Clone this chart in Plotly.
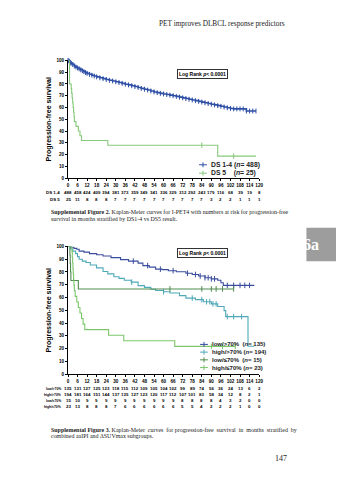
import plotly.graph_objects as go

W, H = 340, 480

# ---------------- data ----------------
months = list(range(0, 121, 6))
pct_ticks = list(range(0, 101, 10))

# Supplemental Figure 2: DS 1-4 vs DS 5
ds14_t = [0, 0.5, 1, 1.5, 2, 3, 4, 5, 6, 7, 8, 9, 10, 11, 12, 13.5, 15, 16.5, 18, 20, 22, 24,
          26, 28, 30, 32, 34, 36, 38, 40, 42, 44, 46, 48, 50, 52, 54, 56, 58, 60, 62, 64, 66,
          68, 70, 72, 74, 76, 78, 80, 82, 84, 86, 88, 90, 92, 94, 96, 98, 100, 102, 104, 106,
          108, 110, 112, 114, 116, 118]
ds14_s = [100, 99.6, 99, 98.2, 97.5, 96.5, 95.2, 94.3, 93.6, 92.8, 92, 91.2, 90.4, 89.7, 89,
          88.2, 87.4, 86.7, 86, 85.2, 84.5, 83.8, 83.1, 82.5, 81.8, 81.2, 80.5, 79.8, 79.2,
          78.5, 77.8, 77, 76.2, 75.5, 74.8, 74, 73.2, 72.6, 72, 71.5, 71, 70.5, 70,
          69.4, 68.8, 68.2, 67.6, 67, 66.4, 65.8, 65.2, 64.6, 64, 63.4, 62.8, 62.2, 61.6, 61,
          60.4, 59.8, 59.2, 58.8, 58.8, 58.8, 58.8, 57, 57, 57, 57]
ds5_t = [0, 1, 2, 2.3, 2.6, 2.9, 3.2, 3.5, 3.8, 4, 5, 6.5, 7.5, 8.5, 25, 94, 118]
ds5_s = [100, 80, 76, 72, 68, 64, 60, 56, 52, 48, 44, 40, 36, 32, 28, 18.7, 18.7]
ds5_cens = [84, 104]

ds14_risk = [488, 458, 424, 409, 394, 381, 373, 359, 349, 341, 336, 329, 312, 292, 243, 179, 116, 68, 39, 19, 8]
ds5_risk = [25, 11, 8, 8, 8, 7, 7, 7, 7, 7, 7, 7, 7, 7, 7, 3, 2, 2, 1, 1, 1]

# Supplemental Figure 3: aaIPI / dSUVmax subgroups
lowhi_t = [0, 2, 3.7, 5.5, 7, 10, 13.5, 18, 22, 27, 33, 38, 44, 47, 51, 55, 59, 63, 68, 74, 78,
           82, 86, 90, 94, 96, 97.5, 117]
lowhi_s = [100, 99.3, 98.5, 97.8, 96.3, 95.5, 94.4, 93.5, 92.5, 91.2, 89.7, 88.5, 86.9, 85,
           83.8, 82.2, 81.8, 81, 80.2, 79, 78, 76.8, 75.5, 74.6, 73.5, 71.5, 69.5, 69.5]
lowhi_cens = [41, 50, 58, 66, 75, 80, 83, 86, 88, 90, 92, 100, 104, 108, 111, 114]

highhi_t = [0, 1.5, 3, 4.8, 6, 7, 9, 11.3, 14, 17.9, 22, 25, 28.8, 32, 35.3, 39.7, 44, 48, 52,
            55, 60, 64, 70, 74, 80, 85, 90, 94, 98, 99, 113, 117]
highhi_s = [100, 98, 96.3, 94.4, 92, 90, 88.5, 87.4, 85.5, 83.2, 80.4, 78.5, 76.3, 75, 73.5,
            72, 69.3, 67.9, 66.5, 65.5, 64.5, 63.5, 61.5, 59.5, 58.3, 56.7, 55, 53, 49.7, 45,
            21.8, 21.8]
highhi_cens = [40, 60, 78, 84, 87, 89, 91, 93, 100, 104, 109]

lowlo_t = [0, 1.2, 1.4, 1.6, 1.8, 6.5, 104]
lowlo_s = [100, 93.3, 86.7, 80, 73.3, 66.7, 66.7]
lowlo_cens = [64, 84, 90, 93, 97, 104]

highlo_t = [0, 2.5, 2.7, 2.9, 3.1, 3.3, 3.5, 3.7, 4.0, 4.5, 5.5, 6.5, 7.5, 8.5, 9.5, 10.5,
            25.5, 35, 67, 105]
highlo_s = [100, 95.7, 91.3, 87.0, 82.6, 78.3, 73.9, 69.6, 65.2, 60.9, 56.5, 52.2, 47.8,
            43.5, 39.1, 34.8, 30.4, 26.1, 21.7, 21.7]
highlo_cens = [90, 97, 105]

lowhi_risk = [135, 131, 127, 125, 123, 118, 115, 112, 109, 105, 104, 102, 99, 89, 74, 56, 36, 24, 13, 6, 2]
highhi_risk = [194, 181, 164, 151, 144, 137, 135, 127, 123, 120, 117, 112, 107, 101, 83, 58, 34, 12, 8, 2, 1]
lowlo_risk = [15, 10, 9, 9, 9, 9, 9, 9, 9, 9, 9, 9, 8, 8, 8, 8, 4, 3, 2, 0, 0]
highlo_risk = [23, 13, 8, 8, 8, 7, 6, 6, 6, 6, 6, 6, 5, 5, 4, 2, 2, 2, 1, 0, 0]

# ---------------- styling ----------------
C_BLUE1 = "#2f4fa6"
C_GREEN1 = "#86c97a"
C_LOWHI = "#3a4c9e"
C_HIGHHI = "#4fa9b9"
C_LOWLO = "#4f8a4f"
C_HIGHLO = "#7dc66b"

SANS = "Liberation Sans"
SERIF = "Liberation Serif"


def px(x):
    return x / W


def py(y):
    return 1 - y / H


def step_at(ts, ss, t):
    v = ss[0]
    for ti, si in zip(ts, ss):
        if ti <= t:
            v = si
    return v


fig = go.Figure()


def add_curve(ts, ss, color, xa, ya, cens=None, mark_vertices=False, width=1.1):
    fig.add_trace(go.Scatter(x=ts, y=ss, mode="lines+markers" if mark_vertices else "lines",
                             line=dict(color=color, width=width, shape="hv"),
                             marker=dict(symbol="line-ns", size=3.5,
                                         line=dict(color=color, width=1)),
                             xaxis=xa, yaxis=ya, showlegend=False, cliponaxis=False,
                             hoverinfo="skip"))
    if cens:
        fig.add_trace(go.Scatter(x=cens, y=[step_at(ts, ss, c) for c in cens], mode="markers",
                                 marker=dict(symbol="line-ns", size=4,
                                             line=dict(color=color, width=1)),
                                 xaxis=xa, yaxis=ya, showlegend=False, cliponaxis=False,
                                 hoverinfo="skip"))


add_curve(ds14_t, ds14_s, C_BLUE1, "x", "y", mark_vertices=True, width=1.6)
add_curve(ds5_t, ds5_s, C_GREEN1, "x", "y", cens=ds5_cens)

add_curve(lowhi_t, lowhi_s, C_LOWHI, "x2", "y2", cens=lowhi_cens)
add_curve(highhi_t, highhi_s, C_HIGHHI, "x2", "y2", cens=highhi_cens)
add_curve(lowlo_t, lowlo_s, C_LOWLO, "x2", "y2", cens=lowlo_cens)
add_curve(highlo_t, highlo_s, C_HIGHLO, "x2", "y2", cens=highlo_cens)

# ---------------- axes ----------------
tick_font = dict(family=SANS, size=4.6, color="black", weight="bold")
ax_common = dict(showline=True, linecolor="black", linewidth=1, ticks="outside", ticklen=2,
                 tickwidth=0.8, tickcolor="black", showgrid=False, zeroline=False,
                 tickfont=tick_font, tickangle=0)
title_font = dict(family=SANS, size=7, color="black", weight="bold")

P1 = dict(x0=68, x1=262, top=59, bottom=178)
P2 = dict(x0=68, x1=262, top=247, bottom=376)

layout = dict(
    width=W, height=H, margin=dict(l=0, r=0, t=0, b=0),
    paper_bgcolor="white", plot_bgcolor="rgba(0,0,0,0)", showlegend=False,
    xaxis=dict(domain=[px(P1["x0"]), px(P1["x1"])], range=[0, 120], tickvals=months,
               anchor="y", **ax_common),
    yaxis=dict(domain=[py(P1["bottom"]), py(P1["top"])], range=[0, 100], tickvals=pct_ticks,
               anchor="x", title=dict(text="Progression-free survival", font=title_font,
                                      standoff=3), **ax_common),
    xaxis2=dict(domain=[px(P2["x0"]), px(P2["x1"])], range=[0, 120], tickvals=months,
                anchor="y2", **ax_common),
    yaxis2=dict(domain=[py(P2["bottom"]), py(P2["top"])], range=[0, 100], tickvals=pct_ticks,
                anchor="x2", title=dict(text="Progression-free survival", font=title_font,
                                        standoff=3), **ax_common),
)
fig.update_layout(**layout)

ann = []
shapes = []
risk_font = dict(family=SANS, size=4.4, color="black", weight="bold")
lab_font = dict(family=SANS, size=3.4, color="black", weight="bold")


def risk_rows(rows, xref, y_start, dy, label_right, lab_f):
    for i, (label, vals) in enumerate(rows):
        yy = py(y_start + i * dy)
        ann.append(dict(text=label, x=px(label_right), y=yy, xref="paper", yref="paper",
                        xanchor="right", yanchor="middle", showarrow=False, font=lab_f))
        for m, v in zip(months, vals):
            ann.append(dict(text=str(v), x=m, y=yy, xref=xref, yref="paper", xanchor="center",
                            yanchor="middle", showarrow=False, font=risk_font))


risk_rows([("DS 1-4", ds14_risk), ("DS 5", ds5_risk)], "x", 193, 6.5, 62, risk_font)
risk_rows([("low/>70%", lowhi_risk), ("high/>70%", highhi_risk),
           ("low/\u226470%", lowlo_risk), ("high/\u226470%", highlo_risk)],
          "x2", 391, 6, 62.5, lab_font)

# log rank boxes
for yy in (68, 254):
    ann.append(dict(text="Log Rank <i>p</i>< 0.0001", x=px(230), y=py(yy), xref="paper",
                    yref="paper", showarrow=False, font=dict(family=SANS, size=5, color="black",
                                                               weight="bold"),
                    bordercolor="#333333", borderwidth=1, borderpad=1, bgcolor="white"))

# legends (drawn as layout decoration)


def legend(entries, x_sym, x_text, y_start, dy, font):
    for i, (color, text) in enumerate(entries):
        yy = y_start + i * dy
        shapes.append(dict(type="line", xref="paper", yref="paper", x0=px(x_sym - 4),
                           x1=px(x_sym + 4), y0=py(yy), y1=py(yy),
                           line=dict(color=color, width=1)))
        shapes.append(dict(type="line", xref="paper", yref="paper", x0=px(x_sym),
                           x1=px(x_sym), y0=py(yy - 2.5), y1=py(yy + 2.5),
                           line=dict(color=color, width=1)))
        ann.append(dict(text=text, x=px(x_text), y=py(yy), xref="paper", yref="paper",
                        xanchor="left", yanchor="middle", showarrow=False, font=font))


legend([(C_BLUE1, "DS 1-4 (<i>n</i>= 488)"), (C_GREEN1, "DS 5\u00a0\u00a0\u00a0\u00a0(<i>n</i>= 25)")],
       205, 211, 164.5, 8.5, dict(family=SANS, size=6.8, color="#222222", weight="bold"))
legend([(C_LOWHI, "low/>70%\u00a0\u00a0(<i>n</i>= 135)"),
        (C_HIGHHI, "high/>70% (<i>n</i>= 194)"),
        (C_LOWLO, "low/\u226470%\u00a0\u00a0(<i>n</i>= 15)"),
        (C_HIGHLO, "high/\u226470% (<i>n</i>= 23)")],
       206, 212, 346, 7.8, dict(family=SANS, size=6.0, color="#222222", weight="bold"))

# page texts
cap_font = dict(family=SERIF, size=5.95, color="#222222")
ann.append(dict(text="PET improves DLBCL response predictors", x=px(290), y=py(22),
                xref="paper", yref="paper", xanchor="right", yanchor="middle",
                showarrow=False, font=dict(family=SERIF, size=7.3, color="#222222")))
sp = "\u00a0"
cap2 = ["<b>Supplemental Figure 2.</b> Kaplan-Meier curves for I-PET4 with numbers at risk for progression-free",
        "survival in months stratified by DS1-4 vs DS5 result."]
cap3 = ["<b>Supplemental Figure 3.</b> Kaplan-Meier" + sp + " curves" + sp + " for progression-free" + sp
        + " survival" + sp + " in" + sp + " months" + sp + " stratified" + sp + " by",
        "combined aaIPI and \u0394SUVmax subgroups."]
for lines, y0 in ((cap2, 212), (cap3, 432)):
    for i, t in enumerate(lines):
        ann.append(dict(text=t, x=px(49), y=py(y0 + i * 7), xref="paper", yref="paper",
                        xanchor="left", yanchor="middle", showarrow=False, font=cap_font))
ann.append(dict(text="147", x=px(292), y=py(461), xref="paper", yref="paper",
                xanchor="right", yanchor="middle", showarrow=False,
                font=dict(family=SERIF, size=8, color="#222222")))

# chapter tab
shapes.append(dict(type="rect", xref="paper", yref="paper", x0=px(310), x1=1,
                   y0=py(262), y1=py(228), fillcolor="#9d9d9d", line=dict(width=0)))
ann.append(dict(text="<b>6a</b>", x=px(325), y=py(245), xref="paper", yref="paper",
                showarrow=False, font=dict(family=SERIF, size=16, color="white")))

fig.update_layout(annotations=ann, shapes=shapes)
fig.write_html("out.html")
